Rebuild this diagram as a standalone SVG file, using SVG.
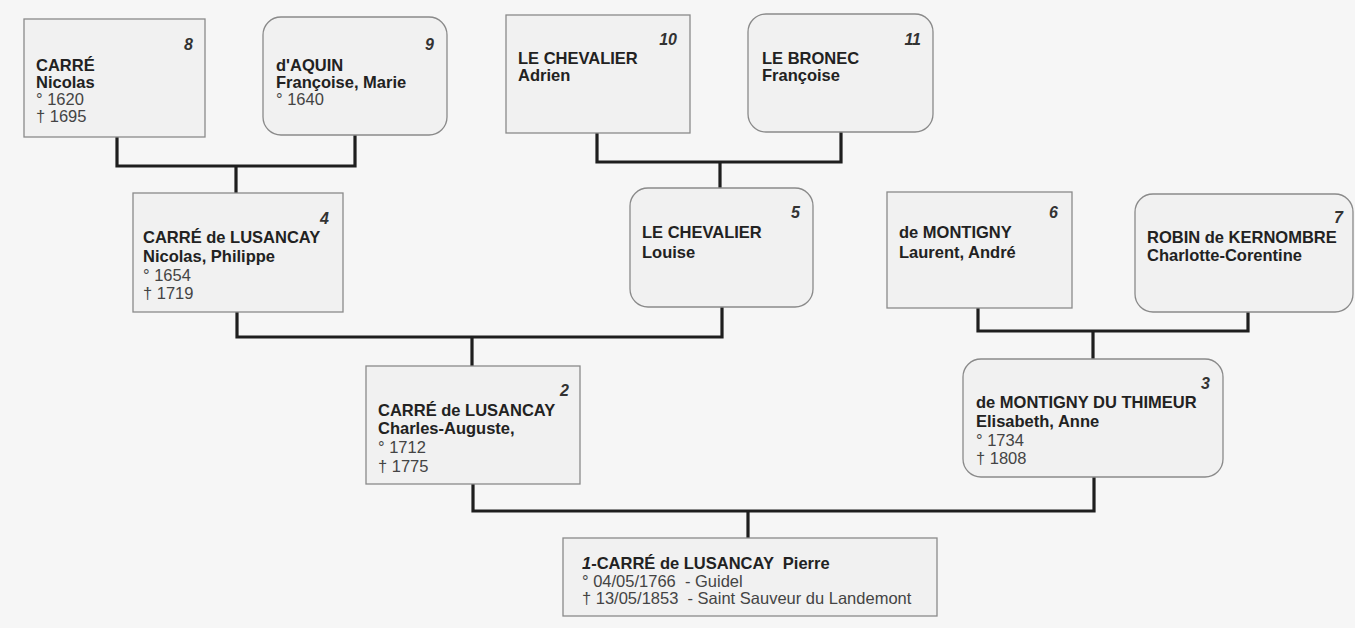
<svg xmlns="http://www.w3.org/2000/svg" width="1355" height="628" viewBox="0 0 1355 628">
<style>
  .bg { fill: #f6f6f6; }
  .box { fill: #f1f1f1; stroke: #8a8a8a; stroke-width: 1.3; }
  .name { font-family: "Liberation Sans", Arial, sans-serif; font-size: 16.5px; font-weight: bold; fill: #222; }
  .date { font-family: "Liberation Sans", Arial, sans-serif; font-size: 16.5px; fill: #444; }
  .num { font-family: "Liberation Sans", Arial, sans-serif; font-size: 16px; font-weight: bold; font-style: italic; fill: #333; text-anchor: end; }
  .conn { fill: none; stroke: #1e1e1e; stroke-width: 3.2; stroke-linejoin: miter; }
</style>
<rect class="bg" x="0" y="0" width="1355" height="628"/>

<g id="connectors">
  <path class="conn" d="M117,137 V166 H355 V135"/>
  <path class="conn" d="M236,166 V193"/>
  <path class="conn" d="M597,133 V162 H841 V132"/>
  <path class="conn" d="M720,162 V188"/>
  <path class="conn" d="M237,312 V337 H722 V307"/>
  <path class="conn" d="M472,337 V366"/>
  <path class="conn" d="M978,308 V331 H1248 V312"/>
  <path class="conn" d="M1093,331 V359"/>
  <path class="conn" d="M473,484 V511 H1094 V477"/>
  <path class="conn" d="M748,511 V538"/>
</g>

<g id="node8">
  <rect class="box" x="24" y="19" width="181" height="118"/>
  <text class="num" x="193" y="50">8</text>
  <text class="name" x="36" y="71">CARRÉ</text>
  <text class="name" x="36" y="88">Nicolas</text>
  <text class="date" x="36" y="105">° 1620</text>
  <text class="date" x="36" y="122">† 1695</text>
</g>

<g id="node9">
  <rect class="box" x="263" y="17" width="184" height="118" rx="18"/>
  <text class="num" x="434" y="50">9</text>
  <text class="name" x="276" y="71">d'AQUIN</text>
  <text class="name" x="276" y="88">Françoise, Marie</text>
  <text class="date" x="276" y="105">° 1640</text>
</g>

<g id="node10">
  <rect class="box" x="506" y="15" width="184" height="118"/>
  <text class="num" x="677" y="45">10</text>
  <text class="name" x="518" y="64">LE CHEVALIER</text>
  <text class="name" x="518" y="81">Adrien</text>
</g>

<g id="node11">
  <rect class="box" x="748" y="14" width="185" height="118" rx="18"/>
  <text class="num" x="921" y="45">11</text>
  <text class="name" x="762" y="64">LE BRONEC</text>
  <text class="name" x="762" y="81">Françoise</text>
</g>

<g id="node4">
  <rect class="box" x="133" y="193" width="210" height="119"/>
  <text class="num" x="329" y="224">4</text>
  <text class="name" x="143" y="243">CARRÉ de LUSANCAY</text>
  <text class="name" x="143" y="262">Nicolas, Philippe</text>
  <text class="date" x="143" y="281">° 1654</text>
  <text class="date" x="143" y="299">† 1719</text>
</g>

<g id="node5">
  <rect class="box" x="630" y="188" width="183" height="119" rx="18"/>
  <text class="num" x="800" y="218">5</text>
  <text class="name" x="642" y="238">LE CHEVALIER</text>
  <text class="name" x="642" y="258">Louise</text>
</g>

<g id="node6">
  <rect class="box" x="887" y="192" width="185" height="116"/>
  <text class="num" x="1058" y="218">6</text>
  <text class="name" x="899" y="238">de MONTIGNY</text>
  <text class="name" x="899" y="258">Laurent, André</text>
</g>

<g id="node7">
  <rect class="box" x="1135" y="194" width="218" height="118" rx="18"/>
  <text class="num" x="1343" y="223">7</text>
  <text class="name" x="1147" y="243">ROBIN de KERNOMBRE</text>
  <text class="name" x="1147" y="261">Charlotte-Corentine</text>
</g>

<g id="node2">
  <rect class="box" x="366" y="366" width="214" height="118"/>
  <text class="num" x="569" y="396">2</text>
  <text class="name" x="378" y="416">CARRÉ de LUSANCAY</text>
  <text class="name" x="378" y="434">Charles-Auguste,</text>
  <text class="date" x="378" y="453">° 1712</text>
  <text class="date" x="378" y="472">† 1775</text>
</g>

<g id="node3">
  <rect class="box" x="963" y="359" width="260" height="118" rx="18"/>
  <text class="num" x="1210" y="389">3</text>
  <text class="name" x="976" y="408">de MONTIGNY DU THIMEUR</text>
  <text class="name" x="976" y="427">Elisabeth, Anne</text>
  <text class="date" x="976" y="446">° 1734</text>
  <text class="date" x="976" y="464">† 1808</text>
</g>

<g id="node1">
  <rect class="box" x="563" y="538" width="374" height="78"/>
  <text class="name" x="582" y="569" xml:space="preserve"><tspan font-style="italic">1</tspan>-CARRÉ de LUSANCAY  Pierre</text>
  <text class="date" x="582" y="587" xml:space="preserve">° 04/05/1766  - Guidel</text>
  <text class="date" x="582" y="604" xml:space="preserve">† 13/05/1853  - Saint Sauveur du Landemont</text>
</g>
</svg>
